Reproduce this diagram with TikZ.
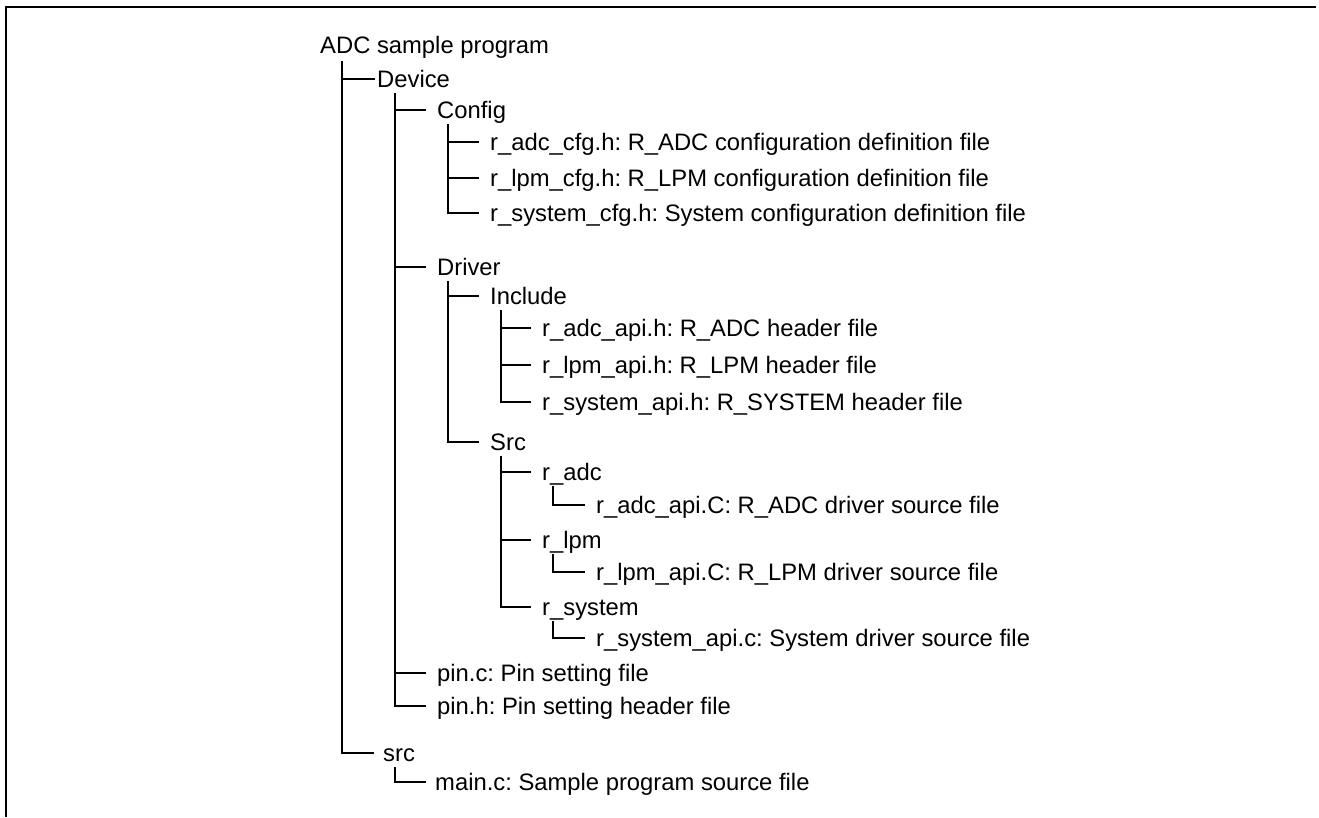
\documentclass[tikz,border=0pt]{standalone}
\usepackage{fontspec}
\setmainfont{Liberation Sans}
\frenchspacing
\tikzset{
  item/.style={anchor=west, inner sep=0pt, text height=17pt, text depth=0pt,
    font=\fontsize{23.8}{28}\selectfont},
  tree/.style={line width=1.8pt, line cap=rect},
  frameline/.style={line width=2.4pt}
}
\begin{document}
\begin{tikzpicture}[x=1pt,y=-1pt]
\useasboundingbox (0,0) rectangle (1319,817);
% frame
\coordinate (fl) at (6,817);
\coordinate (ftl) at (6,7);
\coordinate (ftr) at (1316,7);
\draw[frameline] (fl) -- (ftl) -- (ftr);

% nodes
\node[item] (root) at (320,45) {ADC sample program};
\node[item] (device) at (377,79) {Device};
\node[item] (config) at (437,110) {Config};
\node[item] (adccfg) at (490,142) {r\_adc\_cfg.h: R\_ADC configuration definition file};
\node[item] (lpmcfg) at (490,178) {r\_lpm\_cfg.h: R\_LPM configuration definition file};
\node[item] (syscfg) at (490,213) {r\_system\_cfg.h: System configuration definition file};
\node[item] (driver) at (437,267) {Driver};
\node[item] (include) at (490,296) {Include};
\node[item] (adcapih) at (542,328) {r\_adc\_api.h: R\_ADC header file};
\node[item] (lpmapih) at (542,365) {r\_lpm\_api.h: R\_LPM header file};
\node[item] (sysapih) at (542,402) {r\_system\_api.h: R\_SYSTEM header file};
\node[item] (Src) at (490,442) {Src};
\node[item] (radc) at (542,472) {r\_adc};
\node[item] (adcapic) at (596,505) {r\_adc\_api.C: R\_ADC driver source file};
\node[item] (rlpm) at (542,540) {r\_lpm};
\node[item] (lpmapic) at (596,572) {r\_lpm\_api.C: R\_LPM driver source file};
\node[item] (rsys) at (542,607) {r\_system};
\node[item] (sysapic) at (596,638) {r\_system\_api.c: System driver source file};
\node[item] (pinc) at (437,673) {pin.c: Pin setting file};
\node[item] (pinh) at (437,706) {pin.h: Pin setting header file};
\node[item] (src) at (383,753) {src};
\node[item] (mainc) at (435,782) {main.c: Sample program source file};

% connectors
\draw[tree] ([xshift=22pt,yshift=-8pt]root.south west) |- ([xshift=-3pt]device.west);
\draw[tree] ([xshift=22pt,yshift=-8pt]root.south west) |- ([xshift=-10pt]src.west);

\foreach \c in {config,driver,pinc,pinh}
  \draw[tree] ([xshift=18pt,yshift=-6pt]device.south west) |- ([xshift=-12pt]\c.west);

\foreach \c in {adccfg,lpmcfg,syscfg}
  \draw[tree] ([xshift=11pt,yshift=-6pt]config.south west) |- ([xshift=-12pt]\c.west);

\foreach \c in {include,Src}
  \draw[tree] ([xshift=11pt,yshift=-6pt]driver.south west) |- ([xshift=-12pt]\c.west);

\foreach \c in {adcapih,lpmapih,sysapih}
  \draw[tree] ([xshift=11pt,yshift=-6pt]include.south west) |- ([xshift=-12pt]\c.west);

\foreach \c in {radc,rlpm,rsys}
  \draw[tree] ([xshift=11pt,yshift=-6pt]Src.south west) |- ([xshift=-12pt]\c.west);

\draw[tree] ([xshift=11pt,yshift=-6pt]radc.south west) |- ([xshift=-12pt]adcapic.west);
\draw[tree] ([xshift=11pt,yshift=-6pt]rlpm.south west) |- ([xshift=-12pt]lpmapic.west);
\draw[tree] ([xshift=11pt,yshift=-6pt]rsys.south west) |- ([xshift=-12pt]sysapic.west);
\draw[tree] ([xshift=12pt,yshift=-6pt]src.south west) |- ([xshift=-10pt]mainc.west);
\end{tikzpicture}
\end{document}
